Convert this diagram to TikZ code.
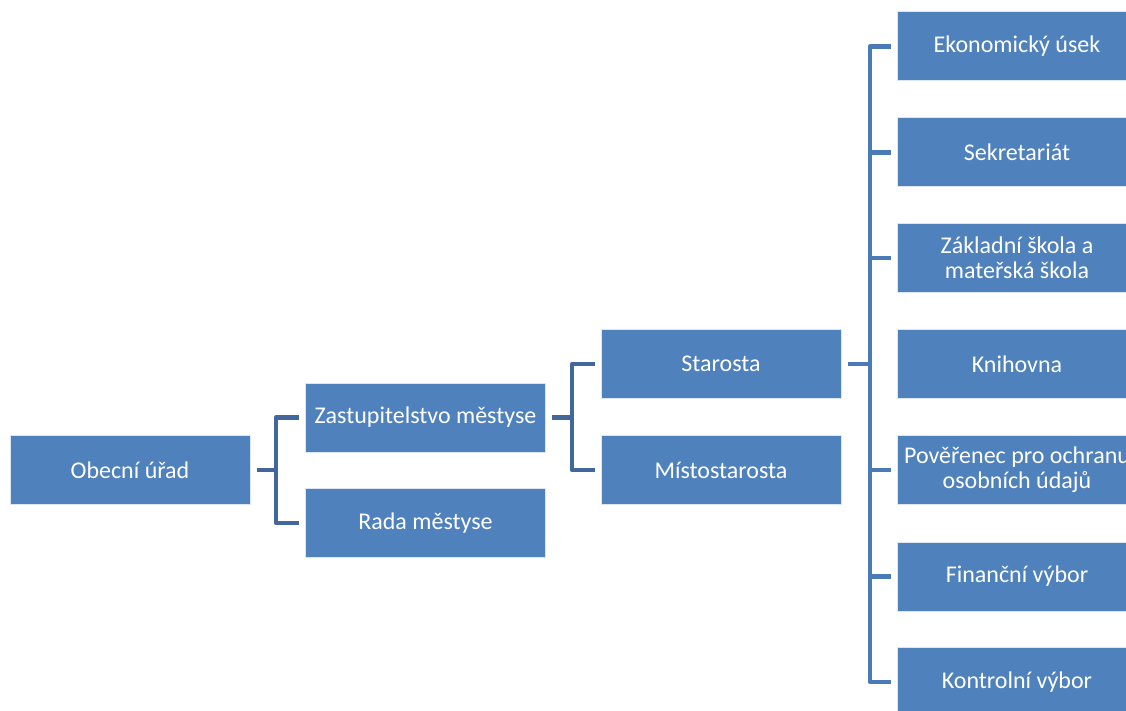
\documentclass[tikz,border=0pt]{standalone}
\usepackage{fontspec}
\setmainfont{Carlito}
\usetikzlibrary{positioning}
\definecolor{boxblue}{HTML}{4F81BD}
\definecolor{linkdark}{HTML}{41679D}
\definecolor{linklight}{HTML}{4A7BB7}
\tikzset{
  unit/.style={rectangle, fill=boxblue, draw=white!80!boxblue, line width=1pt,
    minimum width=240, minimum height=69, inner sep=0pt, text=white,
    align=center, font=\fontsize{24}{25}\selectfont},
  link/.style={line width=4.5pt, linkdark, line join=round},
}
\begin{document}
\begin{tikzpicture}[x=1pt,y=-1pt]
 \clip (0,0) rectangle (1126,711);
 % levels on the left
 \node[unit] (obec) at (130,470) {Obecní úřad};
 \node[unit] (zast) at (425.5,417.5) {Zastupitelstvo městyse};
 \node[unit] (rada) at (425.5,523) {Rada městyse};
 \node[unit] (star) at (721,364) {Starosta};
 \node[unit] (mist) at (721,470) {Místostarosta};
 % column on the right
 \foreach \name/\yy/\txt in {r1/46.5/Ekonomický úsek, r2/152.5/Sekretariát,
   r3/258/{Základní škola a\\mateřská škola}, r4/364/Knihovna,
   r5/470/{Pověřenec pro ochranu\\osobních údajů}, r6/576.5/Finanční výbor,
   r7/682/Kontrolní výbor}
   \node[unit] (\name) at (1017,\yy) {\txt};
 % brackets
 \coordinate (j1) at (276,470);
 \coordinate (j2) at (572,417.5);
 \coordinate (j3) at (870,364);
 \draw[link] ([xshift=6]obec.east) -- (j1);
 \draw[link] ([xshift=-6]zast.west) -| (j1) |- ([xshift=-6]rada.west);
 \draw[link] ([xshift=6]zast.east) -- (j2);
 \draw[link] ([xshift=-6]star.west) -| (j2) |- ([xshift=-6]mist.west);
 \draw[link,linklight] ([xshift=6]star.east) -- (j3);
 \draw[link,linklight] ([xshift=-6]r1.west) -| (j3) |- ([xshift=-6]r7.west);
 \foreach \name in {r2,r3,r5,r6}
   \draw[link,linklight] (j3 |- \name) -- ([xshift=-6]\name.west);
\end{tikzpicture}
\end{document}
